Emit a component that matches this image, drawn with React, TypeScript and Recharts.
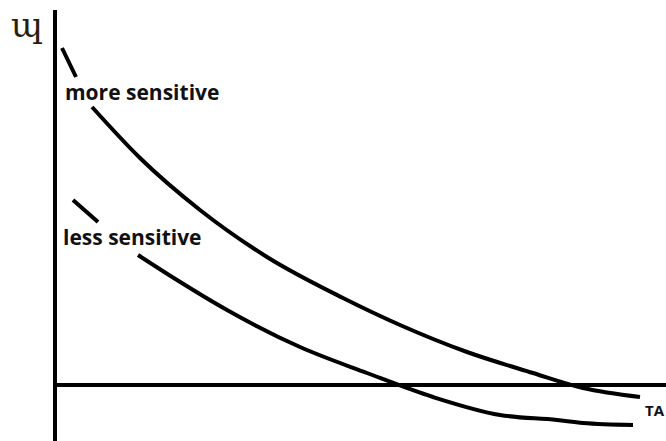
import { LineChart, Line, XAxis, YAxis, ReferenceLine } from 'recharts';

// values; y = 0 is the horizontal line, null = gap under a label
const moreX = [7, 21, 29, 37, 85, 145, 212, 288, 345, 412, 478, 528, 585];
const moreY = [337, 308, null, 278, 227, 175, 128, 87, 60, 33, 12, -3, -12];
const lessX = [18, 43, 63, 83, 122, 172, 245, 312, 378, 445, 502, 528, 578];
const lessY = [185, 163, null, 130, 105, 75, 38, 12, -12, -30, -35, -38, -40];

const moreData = moreX.map((x, i) => ({ x, y: moreY[i] }));
const lessData = lessX.map((x, i) => ({ x, y: lessY[i] }));

const labelStyle: React.CSSProperties = {
    position: 'absolute',
    fontFamily: '"Open Sans", sans-serif',
    fontWeight: 700,
    color: '#111',
    whiteSpace: 'nowrap',
    lineHeight: 1,
};

export default function App() {
    return (
        <div style={{ position: 'absolute', left: 0, top: 0, width: 666, height: 441, background: '#fff', overflow: 'hidden' }}>
            <LineChart width={666} height={441} margin={{ top: 10, right: 0, bottom: 0, left: 55 }}>
                <XAxis type="number" dataKey="x" domain={[0, 611]} hide />
                <YAxis type="number" domain={[-56, 375]} hide allowDataOverflow />
                <ReferenceLine x={0} stroke="#000" strokeWidth={4} />
                <ReferenceLine y={0} stroke="#000" strokeWidth={4} />
                <Line data={moreData} dataKey="y" type="monotone" stroke="#000" strokeWidth={4} dot={false} isAnimationActive={false} />
                <Line data={lessData} dataKey="y" type="monotone" stroke="#000" strokeWidth={4} dot={false} isAnimationActive={false} />
            </LineChart>
            <div style={{ ...labelStyle, left: 11, top: 8, fontFamily: '"DejaVu Serif", serif', fontWeight: 400, fontSize: 34, color: '#2a1e0c' }}>ɰ</div>
            <div style={{ ...labelStyle, left: 65, top: 82, fontSize: 21 }}>more sensitive</div>
            <div style={{ ...labelStyle, left: 63, top: 227, fontSize: 21 }}>less sensitive</div>
            <div style={{ ...labelStyle, left: 645, top: 403, fontSize: 15 }}>TA</div>
        </div>
    );
}
